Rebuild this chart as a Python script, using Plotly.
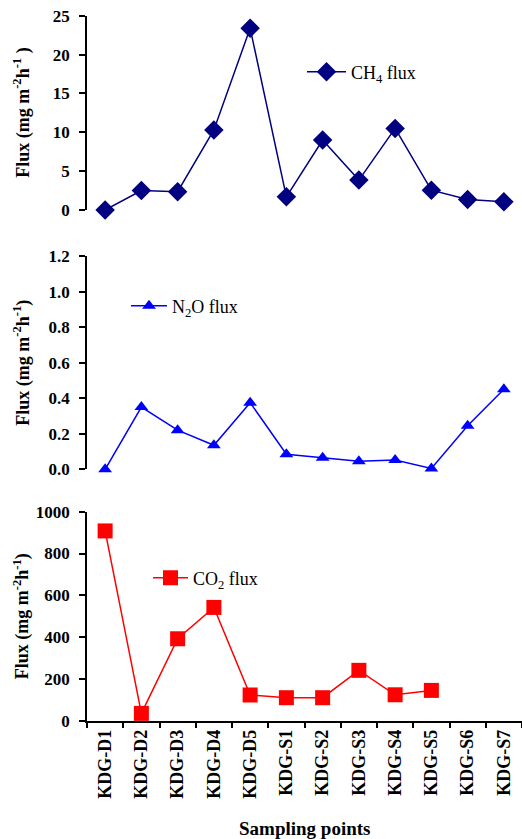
import plotly.graph_objects as go

# Sampling points along the transect
sites = ["KDG-D1", "KDG-D2", "KDG-D3", "KDG-D4", "KDG-D5", "KDG-S1",
         "KDG-S2", "KDG-S3", "KDG-S4", "KDG-S5", "KDG-S6", "KDG-S7"]

# Gas fluxes (mg m-2 h-1)
ch4_flux = [0.0, 2.5, 2.35, 10.3, 23.4, 1.7, 9.0, 3.85, 10.5, 2.55, 1.35, 1.05]
n2o_flux = [0.0, 0.35, 0.22, 0.135, 0.375, 0.085, 0.065, 0.045, 0.052, 0.005, 0.245, 0.45]
co2_flux = [908, 35, 392, 542, 123, 110, 110, 241, 124, 145, None, None]

# Tick values for each panel
ch4_ticks = [0, 5, 10, 15, 20, 25]
n2o_ticks = [0.0, 0.2, 0.4, 0.6, 0.8, 1.0, 1.2]
co2_ticks = [0, 200, 400, 600, 800, 1000]

SERIF = "Liberation Serif, Times New Roman, serif"
W, H = 522, 839
ML, MR, MT, MB = 87, 0, 15, 118
plot_w = W - ML - MR
plot_h = H - MT - MB


def dom(top_px, bot_px):
    return [(H - MB - bot_px) / plot_h, (H - MB - top_px) / plot_h]


fig = go.Figure()

fig.add_trace(go.Scatter(
    x=sites, y=ch4_flux, mode="lines+markers", name="CH<sub>4</sub> flux",
    line=dict(color="#000080", width=1.5),
    marker=dict(symbol="diamond", size=15, color="#000080"),
    cliponaxis=False, xaxis="x", yaxis="y", legend="legend"))

fig.add_trace(go.Scatter(
    x=sites, y=n2o_flux, mode="lines+markers", name="N<sub>2</sub>O flux",
    line=dict(color="#0000FF", width=1.5),
    marker=dict(symbol="triangle-up", size=12, color="#0000FF"),
    cliponaxis=False, xaxis="x2", yaxis="y2", legend="legend2"))

fig.add_trace(go.Scatter(
    x=sites, y=co2_flux, mode="lines+markers", name="CO<sub>2</sub> flux",
    line=dict(color="#FF0000", width=1.5),
    marker=dict(symbol="square", size=15, color="#FF0000"),
    cliponaxis=False, connectgaps=False,
    xaxis="x3", yaxis="y3", legend="legend3"))

tick_font = dict(family=SERIF, size=17, color="black", weight="bold")

# Outward ticks on the main axes, inward ticks on overlaid twins -> crossing ticks
yax_common = dict(
    showgrid=False, zeroline=False, showline=True, linecolor="black",
    linewidth=1.5, ticks="outside", ticklen=6, tickwidth=1.5,
    tickcolor="black", tickfont=tick_font, ticklabelstandoff=6,
)
yin_common = dict(
    showgrid=False, zeroline=False, showline=False, ticks="inside",
    ticklen=6, tickwidth=1.5, tickcolor="black", showticklabels=False,
)

d1 = dom(15.7, 210)
d2 = dom(256, 469.3)
d3 = dom(511.7, 720.7)

xr = [-0.5, len(sites) - 0.5]
xhidden = dict(visible=False, range=xr, type="category")

fig.update_layout(
    width=W, height=H,
    margin=dict(l=ML, r=MR, t=MT, b=MB),
    paper_bgcolor="white", plot_bgcolor="white",
    showlegend=True,
    xaxis=dict(**xhidden, anchor="y", domain=[0, 1]),
    xaxis2=dict(**xhidden, anchor="y2", domain=[0, 1]),
    xaxis3=dict(
        range=xr, type="category", anchor="y3", domain=[0, 1],
        showgrid=False, zeroline=False, showline=True, linecolor="black",
        linewidth=1.5, ticks="outside", ticklen=6, tickwidth=1.5,
        tickcolor="black", tickson="boundaries", tickangle=-90,
        tickfont=dict(family=SERIF, size=18, color="black", weight="bold"),
    ),
    xaxis4=dict(
        range=xr, type="linear", anchor="y3", overlaying="x3",
        tickvals=[i - 0.5 for i in range(1, len(sites))],
        showgrid=False, zeroline=False, showline=False, ticks="inside",
        ticklen=6, tickwidth=1.5, tickcolor="black", showticklabels=False,
    ),
    yaxis=dict(**yax_common, range=[0, 25], tickvals=ch4_ticks,
               domain=d1, anchor="x"),
    yaxis2=dict(**yax_common, range=[0, 1.2], tickvals=n2o_ticks,
                tickformat=".1f", domain=d2, anchor="x2"),
    yaxis3=dict(**yax_common, range=[0, 1000], tickvals=co2_ticks,
                domain=d3, anchor="x3"),
    yaxis4=dict(**yin_common, range=[0, 25], tickvals=ch4_ticks,
                overlaying="y", anchor="x"),
    yaxis5=dict(**yin_common, range=[0, 1.2], tickvals=n2o_ticks,
                overlaying="y2", anchor="x2"),
    yaxis6=dict(**yin_common, range=[0, 1000], tickvals=co2_ticks,
                overlaying="y3", anchor="x3"),
)

leg_font = dict(family=SERIF, size=18, color="black")


def legend_box(left_px, center_px, item_w):
    return dict(x=(left_px - ML) / plot_w, y=(H - MB - center_px) / plot_h,
                xanchor="left", yanchor="middle", font=leg_font,
                itemwidth=item_w, bgcolor="rgba(0,0,0,0)")


fig.update_layout(
    legend=legend_box(302, 72, 39),
    legend2=legend_box(126, 306, 36),
    legend3=legend_box(148, 578, 35),
)

# Y-axis titles
title_font = dict(family=SERIF, size=18, color="black", weight="bold")
titles = [
    ("Flux (mg m<sup>-2</sup>h<sup>-1</sup> )", d1),
    ("Flux (mg m<sup>-2</sup>h<sup>-1</sup>)", d2),
    ("Flux (mg m<sup>-2</sup>h<sup>-1</sup>)", d3),
]
for text, d in titles:
    fig.add_annotation(
        text=text, xref="paper", yref="paper", x=0, y=(d[0] + d[1]) / 2,
        xshift=-65, xanchor="center", yanchor="middle", textangle=-90,
        showarrow=False, font=title_font)

# X-axis title
fig.add_annotation(
    text="Sampling points", xref="paper", yref="paper", x=0.5, y=0,
    yshift=-107, xanchor="center", yanchor="middle", showarrow=False,
    font=dict(family=SERIF, size=19, color="black", weight="bold"))

fig.write_html("out.html")
